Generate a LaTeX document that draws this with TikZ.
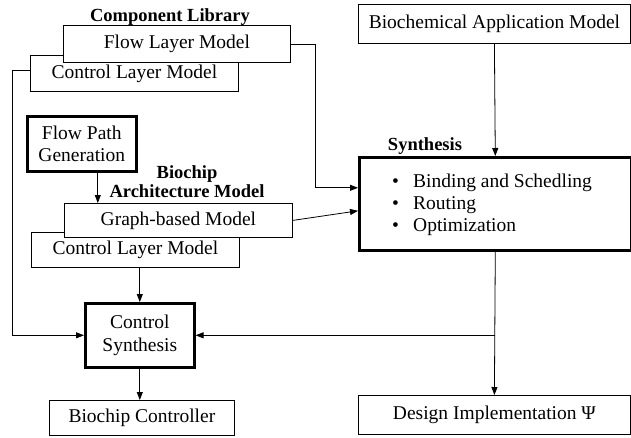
\documentclass[tikz,border=0pt]{standalone}
\usepackage{fontspec}
\setmainfont{Liberation Serif}
\usetikzlibrary{
  arrows.meta,
  positioning,
  calc
}
\tikzset{
  blk/.style={
    draw, line width=0.8pt, fill=white, inner sep=0pt, anchor=north west,
    font=\fontsize{19.5}{22.5}\selectfont, align=center
  },
  blkthick/.style={blk, line width=2.6pt},
  ttl/.style={font=\fontsize{18.5}{19}\selectfont\bfseries, align=center, inner sep=0pt},
  itemlist/.style={font=\fontsize{19.5}{22}\selectfont, align=left, inner sep=0pt, anchor=west},
  flowarrow/.style={-{Triangle[length=8pt, width=6pt]}, line width=0.8pt}
}

\begin{document}
\begin{tikzpicture}[x=1pt, y=-1pt]
  \useasboundingbox (0,0) rectangle (631,437);
  % component library
  \node[ttl] (complibttl) at (170,17) {Component Library};
  \node[blk, minimum width=208pt, minimum height=36pt] (ctrlone) at (30,55) {Control Layer Model};
  \node[blk, minimum width=227pt, minimum height=37pt] (flowlay) at (63,25) {Flow Layer Model};
  % application and synthesis
  \node[blk, minimum width=272pt, minimum height=39pt] (appmodel) at (358,4) {Biochemical Application Model};
  \node[blkthick, minimum width=272pt, minimum height=93pt] (synth) at (358,156) {};
  \node[ttl] (synthttl) at (425,146) {Synthesis};
  \node[itemlist] (synthlist) at (392,205)
    {\makebox[21pt][l]{\textbullet}Binding and Schedling\\
     \makebox[21pt][l]{\textbullet}Routing\\
     \makebox[21pt][l]{\textbullet}Optimization};
  % architecture model
  \node[blkthick, minimum width=109pt, minimum height=55pt] (fpgen) at (26,115) {Flow Path\\Generation};
  \node[ttl] (archttl) at (187,182) {Biochip\\Architecture Model};
  \node[blk, minimum width=208pt, minimum height=35pt] (ctrltwo) at (31,232) {Control Layer Model};
  \node[blk, minimum width=228pt, minimum height=34pt] (graphmod) at (64,203) {Graph-based Model};
  % outputs
  \node[blkthick, minimum width=109pt, minimum height=64pt] (ctrlsyn) at (84,302) {Control\\Synthesis};
  \node[blk, minimum width=185pt, minimum height=35pt] (bcctrl) at (49,400) {Biochip Controller};
  \node[blk, minimum width=272pt, minimum height=39pt] (designimpl) at (358,395) {Design Implementation Ψ};
  % connectors
  \draw[flowarrow] (flowlay.east) -- ++(25,0) |- ([yshift=16pt]synth.west);
  \draw[flowarrow] (graphmod.east) -- ([yshift=-7pt]synth.west);
  \draw[flowarrow] (appmodel.south) -- (synth.north);
  \draw[flowarrow] ([xshift=16pt]fpgen.south) -- ([xshift=16pt]fpgen.south |- graphmod.north);
  \draw[flowarrow] (ctrlsyn.north |- ctrltwo.south) -- (ctrlsyn.north);
  \draw[flowarrow] ([yshift=3pt]ctrlone.west) -- ++(-18,0) |- (ctrlsyn.west);
  \coordinate (junc) at (synth.south |- ctrlsyn.east);
  \draw[flowarrow] (synth.south) -- (designimpl.north);
  \draw[flowarrow] (junc) -- (ctrlsyn.east);
  \draw[flowarrow] (ctrlsyn.south) -- (ctrlsyn.south |- bcctrl.north);
\end{tikzpicture}
\end{document}
